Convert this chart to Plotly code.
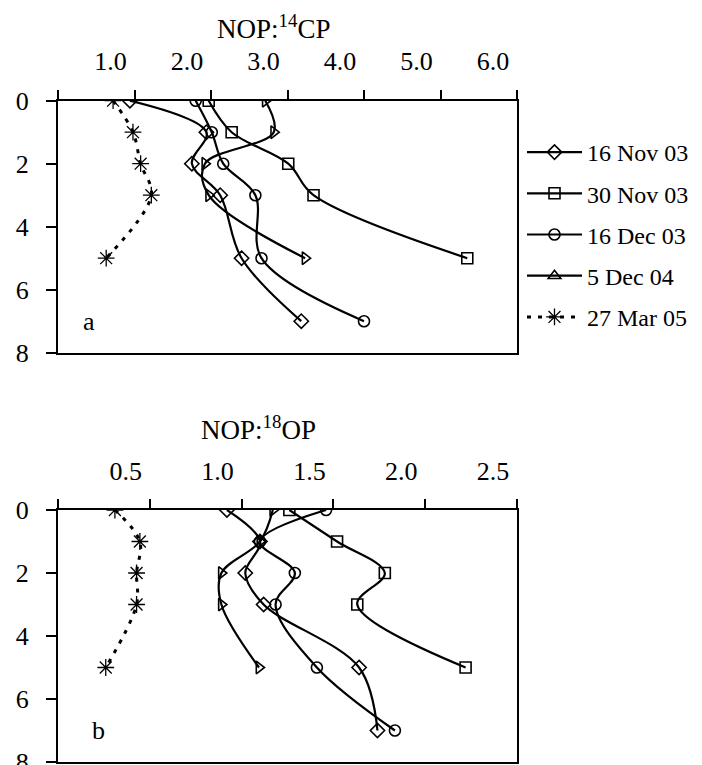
import plotly.graph_objects as go

# ---- data ----
depth_6 = [0, 1, 2, 3, 5, 7]
depth_5 = [0, 1, 2, 3, 5]

series_names = ["16 Nov 03", "30 Nov 03", "16 Dec 03", "5 Dec 04", "27 Mar 05"]

# Panel a: NOP:14CP
cp_16nov03 = [0.94, 1.94, 1.75, 2.12, 2.40, 3.18]
cp_30nov03 = [1.97, 2.27, 3.01, 3.34, 5.35]
cp_16dec03 = [1.80, 2.01, 2.16, 2.58, 2.66, 4.00]
cp_5dec04 = [2.71, 2.82, 1.92, 1.97, 3.23]
cp_27mar05 = [0.72, 0.98, 1.08, 1.22, 0.63]

# Panel b: NOP:18OP
op_16nov03 = [0.92, 1.10, 1.02, 1.12, 1.64, 1.74]
op_30nov03 = [1.26, 1.52, 1.78, 1.63, 2.22]
op_16dec03 = [1.46, 1.10, 1.29, 1.185, 1.41, 1.835]
op_5dec04 = [1.17, 1.10, 0.89, 0.89, 1.095]
op_27mar05 = [0.31, 0.446, 0.428, 0.428, 0.26]

cp_ticks = [0, 1, 2, 3, 4, 5, 6]
cp_ticktext = ["", "1.0", "2.0", "3.0", "4.0", "5.0", "6.0"]
op_ticks = [0, 0.5, 1.0, 1.5, 2.0, 2.5]
op_ticktext = ["", "0.5", "1.0", "1.5", "2.0", "2.5"]
depth_ticks = [0, 2, 4, 6, 8]

FONT = "Liberation Serif, Times New Roman, serif"
# the page body has an 8px margin, so the figure is offset by 8px
OFF = 8
W, H = 702 - OFF, 765

fig = go.Figure()

symbols = ["diamond-open", "square-open", "circle-open", "triangle-right-open", "asterisk-open"]
legend_symbols = ["diamond-open", "square-open", "circle-open", "triangle-up-open", "asterisk-open"]

panel_a = [(depth_6, cp_16nov03), (depth_5, cp_30nov03), (depth_6, cp_16dec03),
           (depth_5, cp_5dec04), (depth_5, cp_27mar05)]
panel_b = [(depth_6, op_16nov03), (depth_5, op_30nov03), (depth_6, op_16dec03),
           (depth_5, op_5dec04), (depth_5, op_27mar05)]


def line_style(i):
    if i == 4:
        return dict(color="black", width=3, dash="4px,7px", shape="spline")
    return dict(color="black", width=2.2, shape="spline")


def marker_style(sym, i):
    if i == 4:
        return dict(symbol=sym, size=14, color="black", line=dict(color="black", width=1.3))
    return dict(symbol=sym, size=11, color="black", line=dict(color="black", width=1.6))


for panel, (xa, ya) in ((panel_a, ("x", "y")), (panel_b, ("x2", "y2"))):
    for i, (d, v) in enumerate(panel):
        fig.add_trace(go.Scatter(
            x=v, y=d, mode="lines+markers", xaxis=xa, yaxis=ya,
            line=line_style(i), marker=marker_style(symbols[i], i),
            showlegend=False, hoverinfo="skip"))

# legend entries
for i, name in enumerate(series_names):
    fig.add_trace(go.Scatter(
        x=[None], y=[None], mode="lines+markers", name=name,
        line=line_style(i), marker=marker_style(legend_symbols[i], i),
        legendgroup=name, showlegend=True))


def px_x(v):
    return (v - OFF) / W


def px_y(v):
    return 1 - (v - OFF) / H


x0, x1 = px_x(58), px_x(517)
ya_dom = [px_y(352.7), px_y(100.7)]
yb_dom = [px_y(762), px_y(510)]

common_x = dict(side="top", showline=True, mirror=True, linecolor="black", linewidth=2,
                ticks="outside", ticklen=9, tickwidth=1.5, tickcolor="black",
                showgrid=False, zeroline=False, automargin=False,
                ticklabeloverflow="allow",
                tickfont=dict(family=FONT, size=26, color="black"),
                ticklabelshift=-24, ticklabelstandoff=9)
common_y = dict(autorange=False, range=[8, 0], tickvals=depth_ticks,
                showline=True, mirror=True, linecolor="black", linewidth=2,
                ticks="outside", ticklen=10, tickwidth=1.5, tickcolor="black",
                showgrid=False, zeroline=False, automargin=False,
                ticklabeloverflow="allow",
                tickfont=dict(family=FONT, size=26, color="black"),
                ticklabelstandoff=12)

fig.update_layout(
    width=W, height=H,
    margin=dict(l=0, r=0, t=0, b=0, autoexpand=False),
    paper_bgcolor="white", plot_bgcolor="white",
    font=dict(family=FONT, size=24, color="black"),
    xaxis=dict(domain=[x0, x1], anchor="y", range=[0, 6], tickvals=cp_ticks,
               ticktext=cp_ticktext, **common_x),
    yaxis=dict(domain=ya_dom, anchor="x", **common_y),
    xaxis2=dict(domain=[x0, x1], anchor="y2", range=[0, 2.5], tickvals=op_ticks,
                ticktext=op_ticktext, **common_x),
    yaxis2=dict(domain=yb_dom, anchor="x2", **common_y),
    legend=dict(x=px_x(522), xanchor="left", y=px_y(130), yanchor="top",
                font=dict(family=FONT, size=24, color="black"),
                bgcolor="rgba(0,0,0,0)", tracegroupgap=7, itemwidth=55,
                traceorder="grouped"),
    annotations=[
        dict(text="NOP:<sup>14</sup>CP", xref="paper", yref="paper",
             x=px_x(273), y=1, xanchor="center", yanchor="top",
             showarrow=False, font=dict(family=FONT, size=27)),
        dict(text="NOP:<sup>18</sup>OP", xref="paper", yref="paper",
             x=px_x(258), y=px_y(428), xanchor="center", yanchor="middle",
             showarrow=False, font=dict(family=FONT, size=27)),
        dict(text="a", xref="x", yref="y", x=0.4, y=7, showarrow=False,
             font=dict(family=FONT, size=26)),
        dict(text="b", xref="x2", yref="y2", x=0.22, y=7, showarrow=False,
             font=dict(family=FONT, size=26)),
    ],
)

fig.write_html("out.html")
